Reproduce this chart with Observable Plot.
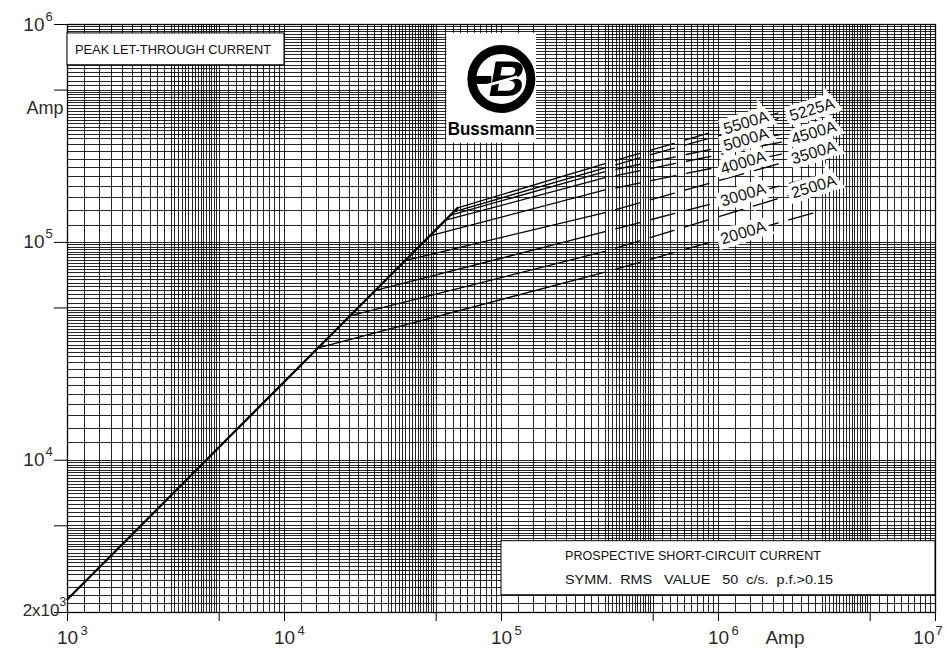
<!DOCTYPE html>
<html><head><meta charset="utf-8">
<script src="https://cdn.jsdelivr.net/npm/d3@7"></script>
<script src="https://cdn.jsdelivr.net/npm/@observablehq/plot@0.6"></script>
<style>
body{margin:0;background:#fff;}
#chart{width:946px;height:650px;}
</style></head><body><div id="chart"></div>
<script>
// ---- axis / grid tick data ----
const xDecades = [1e3, 1e4, 1e5, 1e6];
const yDecades = [1e3, 1e4, 1e5];
const xGridMantissas = [1,1.2,1.4,1.6,1.8,2,2.2,2.4,2.6,2.8,3,3.125,3.25,3.375,3.5,3.625,3.75,3.875,4,4.125,4.25,4.375,4.5,4.625,4.75,4.875,5,5.5,6,6.5,7,7.5,8,8.5,9,9.5];
const yGridMantissas = [1,1.2,1.4,1.6,1.8,2,2.2,2.4,2.6,2.8,3,3.125,3.25,3.375,3.5,3.625,3.75,3.875,4,4.125,4.25,4.375,4.5,4.625,4.75,4.875,5,5.25,5.5,5.75,6,6.25,6.5,6.75,7,7.25,7.5,7.75,8,8.25,8.5,8.75,9,9.25,9.5,9.75];
const xOuterTicks = [1e3,5e3,1e4,5e4,1e5,5e5,1e6,5e6,1e7];
const yOuterTicks = [2e3,5e3,1e4,5e4,1e5,5e5,1e6];
const xLabelValues = [1e3,1e4,1e5,1e6];
const xLabelExps = ["3","4","5","6"];
const xLastLabel = [1e7];
const xLastExp = ["7"];
const yLabelValues = [1e4,1e5,1e6];
const yLabelExps = ["4","5","6"];
const yBottomLabel = [2e3];

// ---- curve data (prospective current I, peak let-through Ip) ----
const fuses        = ["2000A","2500A","3000A","3500A","4000A","4500A","5000A","5225A","5500A"];
const kneeCurrent  = [14300, 20000, 26000, 35800, 46700, 54700, 57700, 60200, 62800];
const kneePeak     = [32800, 46000, 60000, 82400, 107000, 126000, 133000, 138000, 144000];
const solidEndCurrent = 3e5;
const solidEndPeak = [73000, 91000, 112000, 137000, 174000, 198000, 211000, 220000, 230000];
const dashEndCurrent = 3e6;
const dashEndPeak  = [140000, 183000, 204000, 261000, 277000, 315000, 343000, 421000, 450000];
const labelCurrent = [1.3e6, 2.75e6, 1.3e6, 2.75e6, 1.3e6, 2.75e6, 1.34e6, 2.7e6, 1.34e6];
const labelPeak    = [110600, 179900, 165000, 257800, 232000, 318600, 296000, 406600, 354000];
const unlimitedCurrent = [1000, 62800];
const unlimitedPeak    = [2300, 144000];

// ---- build tables ----
const xGrid = xDecades.flatMap(d => xGridMantissas.map(m => m * d)).concat([1e7]);
const yGrid = yDecades.flatMap(d => yGridMantissas.map(m => m * d)).filter(v => v >= 2e3).concat([1e6]);
const unlimited = unlimitedCurrent.map((I, i) => ({I, Ip: unlimitedPeak[i]}));
const solid = fuses.flatMap((f, i) => [
  {fuse: f, I: kneeCurrent[i], Ip: kneePeak[i]},
  {fuse: f, I: solidEndCurrent, Ip: solidEndPeak[i]}
]);
const dashed = fuses.flatMap((f, i) => [
  {fuse: f, I: solidEndCurrent, Ip: solidEndPeak[i]},
  {fuse: f, I: dashEndCurrent, Ip: dashEndPeak[i]}
]);
const labels = fuses.map((f, i) => ({fuse: f, I: labelCurrent[i], Ip: labelPeak[i]}));

const FONT = "Liberation Sans, Arial, sans-serif";
const TXT = "#2a2a2a";

const chart = Plot.plot({
  width: 946, height: 650,
  marginLeft: 67, marginRight: 11, marginTop: 24, marginBottom: 38,
  x: {type: "log", domain: [1e3, 1e7]},
  y: {type: "log", domain: [2e3, 1e6]},
  style: {background: "white", fontFamily: FONT},
  marks: [
    Plot.ruleX(xGrid, {x: d => d, stroke: "#000", strokeWidth: 1, strokeOpacity: 0.85, shapeRendering: "crispEdges"}),
    Plot.ruleY(yGrid, {y: d => d, stroke: "#000", strokeWidth: 1, strokeOpacity: 0.85, shapeRendering: "crispEdges"}),
    Plot.frame({stroke: "#000", strokeWidth: 1.3}),
    Plot.axisX({ticks: xOuterTicks, tickSize: 9, tickFormat: () => "", label: null, stroke: "#000"}),
    Plot.axisY({ticks: yOuterTicks, tickSize: 13, tickFormat: () => "", label: null, stroke: "#000"}),
    // curves
    Plot.line(unlimited, {x: "I", y: "Ip", stroke: "#000", strokeWidth: 2.2}),
    Plot.line(solid, {x: "I", y: "Ip", z: "fuse", stroke: "#000", strokeWidth: 1.3}),
    Plot.line(dashed, {x: "I", y: "Ip", z: "fuse", stroke: "#000", strokeWidth: 1.3, strokeDasharray: "25 11", strokeDashoffset: 25}),
    Plot.text(labels, {x: "I", y: "Ip", text: "fuse", rotate: -17, fontSize: 16, fill: "#111",
      stroke: "white", strokeWidth: 9, strokeLinejoin: "miter", fontFamily: FONT}),
    // x tick labels
    Plot.text(xLabelValues, {x: d => d, frameAnchor: "bottom", dy: 31, lineAnchor: "bottom", text: () => "10", fontSize: 19, fill: TXT}),
    Plot.text(xLabelValues, {x: d => d, frameAnchor: "bottom", dy: 22, dx: 13, lineAnchor: "bottom", textAnchor: "start", text: (d, i) => xLabelExps[i], fontSize: 13, fill: TXT}),
    Plot.text(xLastLabel, {x: d => d, frameAnchor: "bottom", dy: 31, lineAnchor: "bottom", textAnchor: "end", dx: -1, text: () => "10", fontSize: 19, fill: TXT}),
    Plot.text(xLastLabel, {x: d => d, frameAnchor: "bottom", dy: 22, dx: 0, lineAnchor: "bottom", textAnchor: "start", text: (d, i) => xLastExp[i], fontSize: 13, fill: TXT}),
    Plot.text(["Amp"], {frameAnchor: "bottom-right", dx: -131, dy: 31, lineAnchor: "bottom", text: d => d, fontSize: 19, fill: TXT}),
    // y tick labels
    Plot.text(yLabelValues, {y: d => d, frameAnchor: "left", dx: -23, dy: 6, lineAnchor: "bottom", textAnchor: "end", text: () => "10", fontSize: 19, fill: TXT}),
    Plot.text(yLabelValues, {y: d => d, frameAnchor: "left", dx: -22, dy: -4, lineAnchor: "bottom", textAnchor: "start", text: (d, i) => yLabelExps[i], fontSize: 13, fill: TXT}),
    Plot.text(yBottomLabel, {y: d => d, frameAnchor: "left", dx: -8, dy: 3, lineAnchor: "bottom", textAnchor: "end", text: () => "2x10", fontSize: 17, fill: TXT}),
    Plot.text(yBottomLabel, {y: d => d, frameAnchor: "left", dx: -8, dy: -7, lineAnchor: "bottom", textAnchor: "start", text: () => "3", fontSize: 12, fill: TXT}),
    Plot.text(["Amp"], {frameAnchor: "top-left", dx: -4, dy: 89, lineAnchor: "bottom", textAnchor: "end", text: d => d, fontSize: 18, fill: TXT})
  ]
});
document.getElementById("chart").append(chart);

// ---- annotations: boxes and logo, placed through the plot's scales ----
const sx = chart.scale("x"), sy = chart.scale("y");
const X = v => sx.apply(v), Y = v => sy.apply(v);
const svg = d3.select(chart);
const ann = svg.append("g").attr("font-family", FONT).attr("text-anchor", "start");

// Peak let-through box
{
  const x1 = X(1e3), x2 = X(1e4), y1 = Y(9.1e5), y2 = Y(6.5e5);
  ann.append("rect").attr("x", x1).attr("y", y1).attr("width", x2 - x1).attr("height", y2 - y1)
    .attr("fill", "white").attr("stroke", "#000").attr("stroke-width", 1);
  ann.append("text").attr("x", x1 + 8).attr("y", y1 + 21).attr("font-size", 13.5).attr("fill", "#111")
    .attr("textLength", 196).attr("lengthAdjust", "spacingAndGlyphs")
    .text("PEAK LET-THROUGH CURRENT");
}
// Prospective short-circuit box
{
  const x1 = X(1e5), x2 = X(1e7), y1 = Y(4.25e3), y2 = Y(2.4e3);
  ann.append("rect").attr("x", x1).attr("y", y1).attr("width", x2 - x1).attr("height", y2 - y1)
    .attr("fill", "white").attr("stroke", "#000").attr("stroke-width", 1);
  ann.append("text").attr("x", x1 + 64).attr("y", y1 + 19).attr("font-size", 12).attr("fill", "#111")
    .attr("textLength", 256).attr("lengthAdjust", "spacingAndGlyphs")
    .text("PROSPECTIVE SHORT-CIRCUIT CURRENT");
  ann.append("text").attr("x", x1 + 64).attr("y", y1 + 43).attr("font-size", 12).attr("fill", "#111")
    .attr("textLength", 268).attr("lengthAdjust", "spacingAndGlyphs").style("white-space", "pre")
    .text("SYMM.  RMS   VALUE   50  c/s.  p.f.>0.15");
}
// Bussmann logo
{
  const x1 = X(5.6e4), x2 = X(1.45e5), y1 = Y(9.1e5), y2 = Y(2.85e5);
  ann.append("rect").attr("x", x1).attr("y", y1).attr("width", x2 - x1).attr("height", y2 - y1).attr("fill", "white");
  const cx = x1 + 55, cy = y1 + 46;
  ann.append("circle").attr("cx", cx).attr("cy", cy).attr("r", 29.5).attr("fill", "white")
    .attr("stroke", "#000").attr("stroke-width", 9);
  ann.append("rect").attr("x", cx - 30).attr("y", cy - 3).attr("width", 20).attr("height", 8).attr("fill", "#000");
  ann.append("text").attr("transform", `translate(${cx + 3},${cy + 17}) skewX(-10)`)
    .attr("text-anchor", "middle").attr("font-size", 50).attr("font-weight", "bold").attr("fill", "#000").text("B");
  ann.append("line").attr("x1", cx - 16).attr("y1", cy + 7).attr("x2", cx + 16).attr("y2", cy - 2)
    .attr("stroke", "white").attr("stroke-width", 3);
  ann.append("text").attr("x", (x1 + x2) / 2).attr("y", y1 + 102).attr("text-anchor", "middle")
    .attr("font-size", 17.5).attr("font-weight", "bold").attr("fill", "#000")
    .attr("textLength", 87).attr("lengthAdjust", "spacingAndGlyphs").text("Bussmann");
}
</script></body></html>
